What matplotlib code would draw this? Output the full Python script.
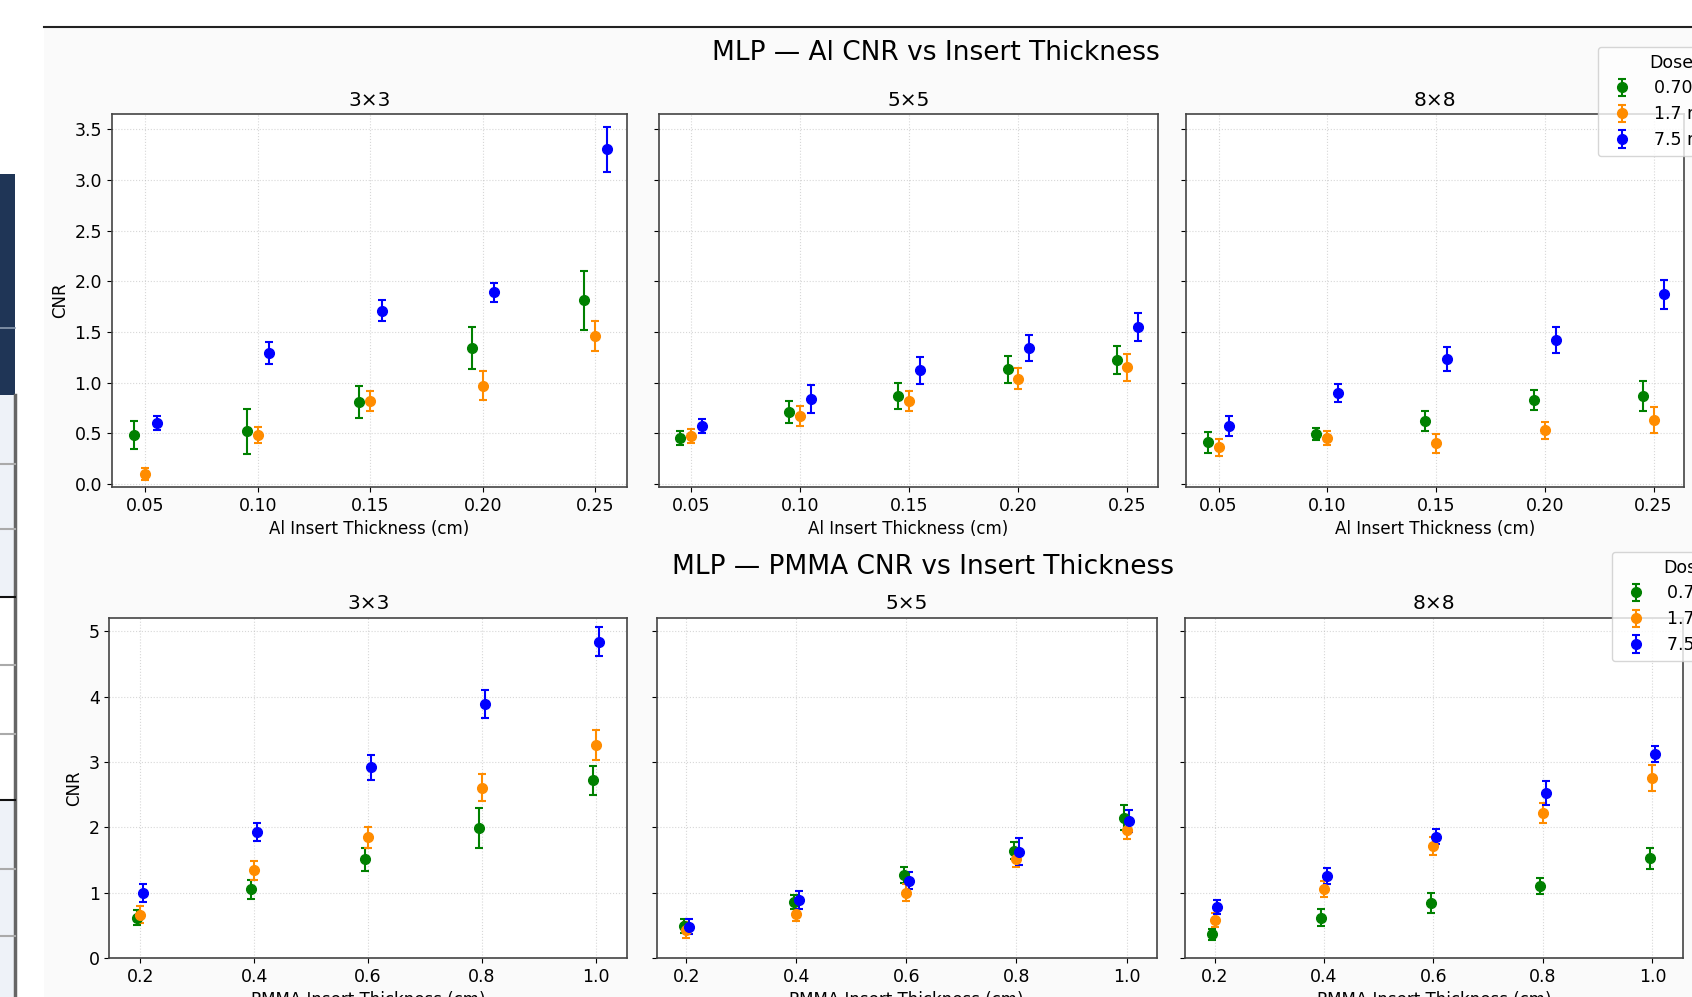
import matplotlib
matplotlib.use('Agg')
import matplotlib.pyplot as plt
from matplotlib.lines import Line2D
from matplotlib.patches import Rectangle

# thickness values (cm)
al_x = [0.05, 0.10, 0.15, 0.20, 0.25]
pmma_x = [0.2, 0.4, 0.6, 0.8, 1.0]
al_ticks = [0.05, 0.10, 0.15, 0.20, 0.25]
pmma_ticks = [0.2, 0.4, 0.6, 0.8, 1.0]
kernels = ['3×3', '5×5', '8×8']
doses = ['0.70 mGy', '1.7 mGy', '7.5 mGy']
colors = ['green', 'darkorange', 'blue']
offsets = [-0.005, 0.0, 0.005]

# CNR mean / std, one row per dose (0.70, 1.7, 7.5 mGy)
al_3x3 = [[0.48, 0.52, 0.81, 1.34, 1.81],
          [0.10, 0.48, 0.82, 0.97, 1.46],
          [0.60, 1.29, 1.71, 1.89, 3.30]]
al_3x3_err = [[0.14, 0.22, 0.16, 0.21, 0.29],
              [0.06, 0.08, 0.10, 0.14, 0.15],
              [0.07, 0.11, 0.10, 0.09, 0.22]]
al_5x5 = [[0.45, 0.71, 0.87, 1.13, 1.22],
          [0.47, 0.67, 0.82, 1.04, 1.15],
          [0.57, 0.84, 1.12, 1.34, 1.55]]
al_5x5_err = [[0.07, 0.11, 0.13, 0.13, 0.14],
              [0.07, 0.10, 0.10, 0.10, 0.13],
              [0.07, 0.14, 0.13, 0.13, 0.14]]
al_8x8 = [[0.41, 0.49, 0.62, 0.83, 0.87],
          [0.36, 0.45, 0.40, 0.53, 0.63],
          [0.57, 0.90, 1.23, 1.42, 1.87]]
al_8x8_err = [[0.10, 0.06, 0.10, 0.10, 0.15],
              [0.08, 0.07, 0.09, 0.085, 0.125],
              [0.10, 0.09, 0.12, 0.13, 0.14]]

pmma_3x3 = [[0.62, 1.05, 1.51, 1.99, 2.72],
            [0.66, 1.34, 1.85, 2.61, 3.26],
            [1.00, 1.93, 2.92, 3.89, 4.84]]
pmma_3x3_err = [[0.11, 0.15, 0.18, 0.31, 0.22],
                [0.13, 0.15, 0.16, 0.21, 0.23],
                [0.14, 0.14, 0.19, 0.22, 0.22]]
pmma_5x5 = [[0.49, 0.86, 1.27, 1.64, 2.15],
            [0.43, 0.68, 1.00, 1.52, 1.96],
            [0.48, 0.89, 1.18, 1.63, 2.10]]
pmma_5x5_err = [[0.11, 0.11, 0.12, 0.13, 0.19],
                [0.12, 0.12, 0.13, 0.13, 0.14],
                [0.12, 0.14, 0.13, 0.21, 0.17]]
pmma_8x8 = [[0.36, 0.62, 0.84, 1.10, 1.53],
            [0.58, 1.06, 1.72, 2.22, 2.76],
            [0.78, 1.26, 1.86, 2.53, 3.12]]
pmma_8x8_err = [[0.08, 0.13, 0.15, 0.12, 0.16],
                [0.11, 0.12, 0.14, 0.16, 0.20],
                [0.11, 0.12, 0.12, 0.18, 0.12]]

W, H = 1692, 997
fig = plt.figure(figsize=(W / 100, H / 100), dpi=100, facecolor='white')


def px_rect(x0, y0, x1, y1):
    # pixel box (top-left origin) -> figure fraction [l, b, w, h]
    return [x0 / W, 1 - y1 / H, (x1 - x0) / W, (y1 - y0) / H]


# page background bits around the figure (screenshot context)
fig.add_artist(Rectangle((44 / W, 0), 1 - 44 / W, 1 - 28 / H, transform=fig.transFigure,
                         facecolor='#fafafa', edgecolor='none', zorder=-10))
fig.add_artist(Line2D([44 / W, 1], [1 - 27 / H] * 2, transform=fig.transFigure,
                      color='#222222', lw=1.5))
fig.add_artist(Rectangle((0, 1 - 395 / H), 15 / W, (395 - 174) / H, transform=fig.transFigure,
                         facecolor='#1f3556', edgecolor='none'))
fig.add_artist(Line2D([0, 15 / W], [1 - 328 / H] * 2, transform=fig.transFigure,
                      color='#8a9ab0', lw=1.2))
for y0, y1 in [(395, 597), (800, 997)]:
    fig.add_artist(Rectangle((0, 1 - y1 / H), 15 / W, (y1 - y0) / H, transform=fig.transFigure,
                             facecolor='#eef2f8', edgecolor='none'))
fig.add_artist(Line2D([15 / W] * 2, [0, 1 - 395 / H], transform=fig.transFigure,
                      color='#666666', lw=2.5))
for yl, c in [(464, '#aaaaaa'), (529, '#aaaaaa'), (597, '#111111'), (665, '#aaaaaa'),
              (734, '#aaaaaa'), (800, '#111111'), (869, '#aaaaaa'), (936, '#aaaaaa')]:
    fig.add_artist(Line2D([0, 15 / W], [1 - yl / H] * 2, transform=fig.transFigure,
                          color=c, lw=1.5))


def panel(rect, xs, means, errs, title, xlabel, xticks, xlim, ylim, ylabel):
    ax = fig.add_axes(rect)
    for i in range(3):
        ax.errorbar([x + offsets[i] for x in xs], means[i], yerr=errs[i], fmt='o',
                    color=colors[i], capsize=3, markersize=7, elinewidth=1.5,
                    capthick=1.5, label=doses[i])
    ax.set_title(title, fontsize=14.5)
    ax.set_xlabel(xlabel, fontsize=12)
    ax.set_xticks(xticks)
    ax.set_xlim(*xlim)
    ax.set_ylim(*ylim)
    ax.tick_params(labelsize=12.5)
    if ylabel:
        ax.set_ylabel('CNR', fontsize=12)
    else:
        ax.tick_params(labelleft=False)
    ax.grid(True, linestyle=':', alpha=0.5)
    for s in ax.spines.values():
        s.set_color('#444444')
        s.set_linewidth(1.2)
    return ax


al_rects = [px_rect(111.6, 114, 627, 487), px_rect(658.6, 114, 1158, 487),
            px_rect(1186, 114, 1684, 487)]
pmma_rects = [px_rect(109.4, 617.7, 627.2, 958), px_rect(656.6, 617.7, 1156.8, 958),
              px_rect(1185, 617.7, 1682.5, 958)]

al_means = [al_3x3, al_5x5, al_8x8]
al_errs = [al_3x3_err, al_5x5_err, al_8x8_err]
pmma_means = [pmma_3x3, pmma_5x5, pmma_8x8]
pmma_errs = [pmma_3x3_err, pmma_5x5_err, pmma_8x8_err]

for k in range(3):
    ax_al = panel(al_rects[k], al_x, al_means[k], al_errs[k], kernels[k],
                  'Al Insert Thickness (cm)', al_ticks, (0.035, 0.264), (-0.03, 3.65), k == 0)
    ax_pm = panel(pmma_rects[k], pmma_x, pmma_means[k], pmma_errs[k], kernels[k],
                  'PMMA Insert Thickness (cm)', pmma_ticks, (0.146, 1.055), (0, 5.21), k == 0)

fig.text(935.5 / W, 1 - 53 / H, 'MLP — Al CNR vs Insert Thickness', fontsize=19,
         ha='center', va='center')
fig.text(923.4 / W, 1 - 566.7 / H, 'MLP — PMMA CNR vs Insert Thickness', fontsize=19,
         ha='center', va='center')

h, l = ax_al.get_legend_handles_labels()
fig.legend(h, l, title='Dose', loc='upper left', bbox_to_anchor=(1598 / W, 1 - 46.7 / H),
           borderaxespad=0, fontsize=12.5, title_fontsize=12.5, labelspacing=0.45)
h, l = ax_pm.get_legend_handles_labels()
fig.legend(h, l, title='Dose', loc='upper left', bbox_to_anchor=(1611.5 / W, 1 - 551.7 / H),
           borderaxespad=0, fontsize=12.5, title_fontsize=12.5, labelspacing=0.45)

fig.savefig('out.png', dpi=100)
plt.close(fig)
